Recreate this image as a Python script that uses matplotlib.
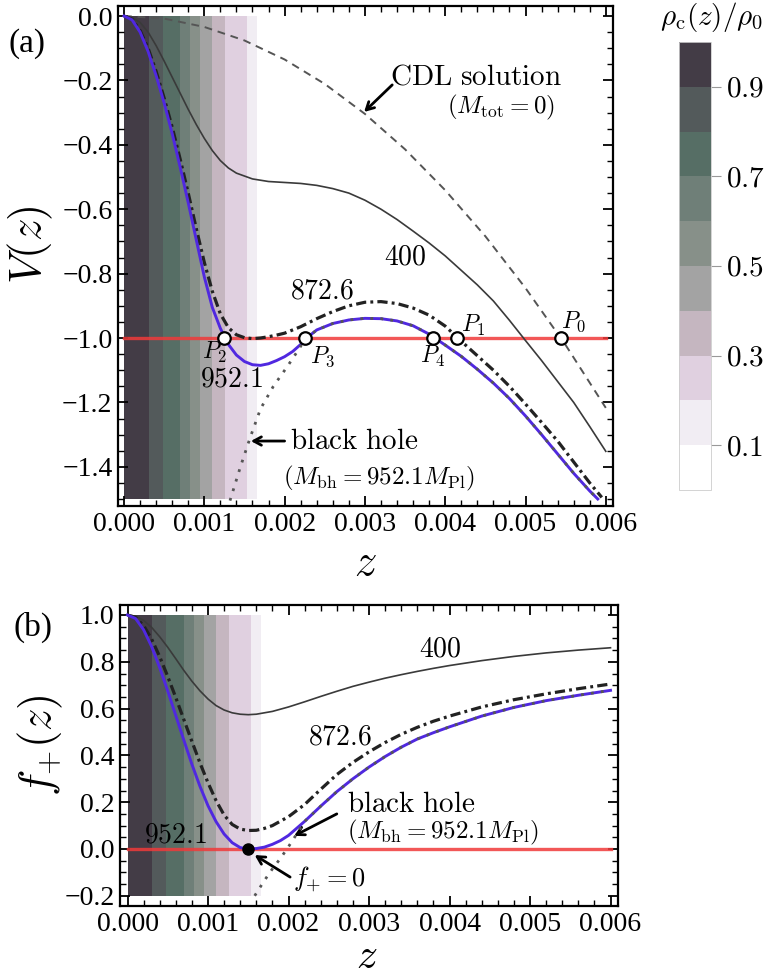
import numpy as np
import matplotlib
matplotlib.use("Agg")
import matplotlib.pyplot as plt
from matplotlib.colors import ListedColormap, BoundaryNorm
from matplotlib.cm import ScalarMappable
from matplotlib.ticker import MultipleLocator, FuncFormatter

plt.rcParams["font.family"] = ["Liberation Serif", "DejaVu Serif"]
plt.rcParams["mathtext.fontset"] = "cm"

# all z values below are in units of 1e-3

# density strips rho_c(z)/rho_0 behind the curves
strip_edges = [0, 0.31, 0.48, 0.70, 0.82, 0.95, 1.10, 1.26, 1.53, 1.66]
strip_rho = [0.95, 0.85, 0.75, 0.65, 0.55, 0.45, 0.35, 0.25, 0.15]
rho_levels = [0, 0.1, 0.2, 0.3, 0.4, 0.5, 0.6, 0.7, 0.8, 0.9, 1.0]
rho_colors = ["#ffffff", "#f1edf3", "#e0d0e0", "#c5b6c0", "#a3a3a3",
              "#879089", "#6f7f78", "#566e65", "#535a5b", "#433c46"]
rho_ticks = [0.1, 0.3, 0.5, 0.7, 0.9]

# ---- panel (a): V(z)
z_cdl = [0, 0.5, 1.0, 1.5, 2.0, 2.5, 3.0, 3.5, 4.0, 4.5, 5.0, 5.5, 6.0]
v_cdl = [0, -0.008, -0.034, -0.076, -0.135, -0.211, -0.304, -0.414, -0.541,
         -0.684, -0.845, -1.022, -1.217]

z_400a = [0, 0.1, 0.2, 0.3, 0.4, 0.5, 0.6, 0.7, 0.8, 0.9, 1.0, 1.1, 1.2, 1.3,
          1.4, 1.6, 1.8, 2.0, 2.2, 2.4, 2.6, 2.8, 3.0, 3.2, 3.4, 3.6, 3.8, 4.0,
          4.2, 4.4, 4.6, 4.8, 5.0, 5.2, 5.4, 5.6, 5.8, 6.0]
v_400a = [0, -0.004, -0.02, -0.05, -0.092, -0.14, -0.19, -0.24, -0.29,
          -0.337, -0.38, -0.418, -0.449, -0.472, -0.488, -0.506, -0.514, -0.517,
          -0.52, -0.526, -0.536, -0.55, -0.572, -0.6, -0.632, -0.668, -0.705,
          -0.745, -0.79, -0.835, -0.885, -0.945, -1.008, -1.07, -1.135, -1.2,
          -1.275, -1.352]

z_873a = [0, 0.1, 0.2, 0.3, 0.4, 0.5, 0.6, 0.7, 0.8, 0.9, 1.0, 1.1, 1.2, 1.3,
          1.4, 1.5, 1.6, 1.7, 1.8, 1.9, 2.0, 2.2, 2.4, 2.6, 2.8, 3.0, 3.2, 3.4,
          3.6, 3.8, 4.0, 4.2, 4.4, 4.6, 4.8, 5.0, 5.2, 5.4, 5.6, 5.8, 5.95]
v_873a = [0, -0.01, -0.045, -0.1, -0.172, -0.255, -0.345, -0.445, -0.55, -0.66,
          -0.765, -0.855, -0.925, -0.968, -0.99, -0.999, -1.002, -1.0, -0.996,
          -0.991, -0.985, -0.965, -0.94, -0.918, -0.9, -0.889, -0.887, -0.893,
          -0.907, -0.929, -0.963, -1.01, -1.055, -1.1, -1.15, -1.205, -1.262,
          -1.32, -1.385, -1.45, -1.495]

z_952a = [0, 0.1, 0.2, 0.3, 0.4, 0.5, 0.6, 0.7, 0.8, 0.9, 1.0, 1.1, 1.2, 1.3,
          1.4, 1.5, 1.6, 1.7, 1.8, 1.9, 2.0, 2.1, 2.2, 2.3, 2.4, 2.6, 2.8, 3.0,
          3.2, 3.4, 3.6, 3.8, 4.0, 4.2, 4.4, 4.6, 4.8, 5.0, 5.2, 5.4, 5.6, 5.8,
          5.9]
v_952a = [0, -0.012, -0.05, -0.11, -0.185, -0.27, -0.365, -0.47, -0.58, -0.695,
          -0.81, -0.905, -0.97, -1.02, -1.053, -1.073, -1.083, -1.085, -1.08,
          -1.07, -1.058, -1.042, -1.02, -0.995, -0.975, -0.955, -0.944, -0.939,
          -0.94, -0.947, -0.962, -0.988, -1.022, -1.057, -1.097, -1.14, -1.188,
          -1.242, -1.3, -1.36, -1.42, -1.475, -1.5]

# black-hole branch before it joins the 952.1 curve at P3
z_bh_a = [1.32, 1.45, 1.57, 1.70, 1.86, 2.03, 2.19, 2.26]
v_bh_a = [-1.505, -1.40, -1.31, -1.22, -1.15, -1.09, -1.03, -1.0]

p_names = ["P_0", "P_1", "P_2", "P_3", "P_4"]
p_z = [5.44, 4.15, 1.25, 2.26, 3.85]
p_v = [-1.0, -1.0, -1.0, -1.0, -1.0]

# ---- panel (b): f_+(z)
z_400b = [0, 0.1, 0.2, 0.3, 0.4, 0.5, 0.6, 0.7, 0.8, 0.9, 1.0, 1.1, 1.2, 1.3,
          1.4, 1.5, 1.6, 1.8, 2.0, 2.2, 2.4, 2.6, 2.8, 3.0, 3.2, 3.4, 3.6, 3.8,
          4.0, 4.4, 4.8, 5.2, 5.6, 6.0]
f_400b = [1.0, 0.995, 0.977, 0.947, 0.907, 0.862, 0.813, 0.763, 0.717, 0.676,
          0.641, 0.613, 0.594, 0.582, 0.576, 0.574, 0.576, 0.588, 0.607, 0.629,
          0.652, 0.674, 0.695, 0.713, 0.73, 0.745, 0.759, 0.772, 0.784, 0.805,
          0.823, 0.838, 0.85, 0.86]

z_873b = [0, 0.1, 0.2, 0.3, 0.4, 0.5, 0.6, 0.7, 0.8, 0.9, 1.0, 1.1, 1.2, 1.3,
          1.4, 1.5, 1.6, 1.7, 1.8, 2.0, 2.2, 2.4, 2.6, 2.8, 3.0, 3.2, 3.4, 3.6,
          3.8, 4.0, 4.4, 4.8, 5.2, 5.6, 6.0]
f_873b = [1.0, 0.99, 0.955, 0.897, 0.822, 0.737, 0.647, 0.553, 0.46, 0.368,
          0.283, 0.207, 0.145, 0.105, 0.085, 0.079, 0.08, 0.088, 0.1, 0.138,
          0.19, 0.255, 0.318, 0.37, 0.415, 0.455, 0.49, 0.52, 0.546, 0.568,
          0.607, 0.638, 0.663, 0.685, 0.705]

z_952b = [0, 0.1, 0.2, 0.3, 0.4, 0.5, 0.6, 0.7, 0.8, 0.9, 1.0, 1.1, 1.2, 1.3,
          1.4, 1.5, 1.6, 1.7, 1.8, 1.9, 2.0, 2.2, 2.4, 2.6, 2.8, 3.0, 3.2, 3.4,
          3.6, 3.8, 4.0, 4.4, 4.8, 5.2, 5.6, 6.0]
f_952b = [1.0, 0.985, 0.937, 0.865, 0.775, 0.675, 0.57, 0.465, 0.362, 0.268,
          0.185, 0.117, 0.064, 0.027, 0.006, 0.0, 0.002, 0.008, 0.02, 0.036,
          0.058, 0.118, 0.183, 0.245, 0.3, 0.35, 0.395, 0.435, 0.47, 0.497,
          0.522, 0.568, 0.605, 0.634, 0.657, 0.678]

z_bh_b = [1.58, 1.7, 1.8, 1.9, 2.0, 2.1, 2.2]
f_bh_b = [-0.2, -0.135, -0.085, -0.04, 0.01, 0.063, 0.118]

zero_z = [1.5]
zero_f = [0.0]

W, H = 766, 976
BLUE = "#5028e0"
RED = "#f03a3a"
ARROW = dict(arrowstyle="->,head_length=0.55,head_width=0.3",
             color="black", lw=2.0, shrinkA=0, shrinkB=0)


def box(left, top, right, bottom):
    return [left / W, 1 - bottom / H, (right - left) / W, (bottom - top) / H]


def zs(vals):
    return np.asarray(vals) * 1e-3


def minus(fmt):
    def f(v, pos):
        if abs(v) < 1e-12:
            v = 0.0
        return fmt.format(v).replace("-", "\u2212")
    return FuncFormatter(f)


cmap = ListedColormap(rho_colors)
norm = BoundaryNorm(rho_levels, cmap.N)

fig = plt.figure(figsize=(W / 100, H / 100), dpi=100)
ax1 = fig.add_axes(box(118, 6, 613, 506))
ax2 = fig.add_axes(box(120, 605, 618, 906))
cax = fig.add_axes(box(679, 42, 711, 490))


def style(ax, ymajor):
    ax.xaxis.set_major_locator(MultipleLocator(0.001))
    ax.xaxis.set_minor_locator(MultipleLocator(0.0002))
    ax.yaxis.set_major_locator(MultipleLocator(ymajor))
    ax.yaxis.set_minor_locator(MultipleLocator(0.05))
    ax.xaxis.set_major_formatter(minus("{:.3f}"))
    ax.yaxis.set_major_formatter(minus("{:.1f}"))
    ax.tick_params(which="both", direction="in", top=True, right=True,
                   labelsize=20, colors="black")
    ax.tick_params(which="major", length=7, width=1.3, pad=4)
    ax.tick_params(which="minor", length=4, width=1.0)
    for s in ax.spines.values():
        s.set_linewidth(1.6)


def dotted_path(zb, vb, zc, vc, start):
    tail = [(z, v) for z, v in zip(zc, vc) if z > start]
    zz = list(zb) + [t[0] for t in tail]
    vv = list(vb) + [t[1] for t in tail]
    return zs(zz), vv


# ---------- (a)
ax1.pcolormesh(zs(strip_edges), [-1.5, 0.0], [strip_rho], cmap=cmap, norm=norm,
               shading="flat", zorder=0)
ax1.plot(zs([0, 6.0]), [-1.0, -1.0], color=RED, lw=2.4, alpha=0.85, zorder=2)
ax1.plot(zs(z_cdl), v_cdl, color="#555555", lw=1.4, dashes=(4, 3), zorder=3)
ax1.plot(zs(z_400a), v_400a, color="#3a3a3a", lw=1.2, zorder=3)
ax1.plot(zs(z_873a), v_873a, color="#222222", lw=2.3,
         dashes=(3.2, 1.3, 0.9, 1.3), zorder=4)
ax1.plot(zs(z_952a), v_952a, color=BLUE, lw=2.1, zorder=5)
bz, bv = dotted_path(z_bh_a, v_bh_a, z_952a, v_952a, z_bh_a[-1])
ax1.plot(bz, bv, color="#555555", lw=2.0, dashes=(1, 2.6), zorder=6)
ax1.plot(zs(p_z), p_v, "o", ms=9, mfc="white", mec="black", mew=1.6, zorder=7)

p_off = {"P_0": (0.16, 0.05), "P_1": (0.2, 0.04), "P_2": (-0.13, -0.045),
         "P_3": (0.21, -0.06), "P_4": (-0.01, -0.056)}
for name, z, v in zip(p_names, p_z, p_v):
    dz, dv = p_off[name]
    ax1.text((z + dz) * 1e-3, v + dv, "$" + name + "$", fontsize=17,
             ha="center", va="center", zorder=8)

ax1.text(3.31e-3, -0.19, r"$\mathrm{CDL\ solution}$", fontsize=21,
         ha="left", va="center")
ax1.text(5.37e-3, -0.283, r"$(M_{\mathrm{tot}}=0)$", fontsize=18,
         ha="right", va="center")
ax1.annotate("", xy=(2.99e-3, -0.298), xytext=(3.34e-3, -0.214),
             arrowprops=ARROW)
ax1.text(3.5e-3, -0.752, r"$400$", fontsize=20, ha="center", va="center")
ax1.text(2.47e-3, -0.857, r"$872.6$", fontsize=20, ha="center", va="center")
ax1.text(1.34e-3, -1.13, r"$952.1$", fontsize=20, ha="center", va="center")
ax1.text(2.07e-3, -1.323, r"$\mathrm{black\ hole}$", fontsize=21,
         ha="left", va="center")
ax1.text(1.98e-3, -1.435, r"$(M_{\mathrm{bh}}=952.1M_{\mathrm{Pl}})$",
         fontsize=18, ha="left", va="center")
ax1.annotate("", xy=(1.58e-3, -1.32), xytext=(2.0e-3, -1.32),
             arrowprops=ARROW)

ax1.set_xlim((118 - 124) / 80.3e3, (613 - 124) / 80.3e3)
ax1.set_ylim(-(506 - 16) / 322, (16 - 6) / 322)
style(ax1, 0.2)

# ---------- (b)
ax2.pcolormesh(zs(strip_edges), [-0.2, 1.0], [strip_rho], cmap=cmap, norm=norm,
               shading="flat", zorder=0)
ax2.plot(zs([0, 6.0]), [0.0, 0.0], color=RED, lw=2.4, alpha=0.85, zorder=2)
ax2.plot(zs(z_400b), f_400b, color="#3a3a3a", lw=1.2, zorder=3)
ax2.plot(zs(z_873b), f_873b, color="#222222", lw=2.3,
         dashes=(3.2, 1.3, 0.9, 1.3), zorder=4)
ax2.plot(zs(z_952b), f_952b, color=BLUE, lw=2.1, zorder=5)
bz, bf = dotted_path(z_bh_b, f_bh_b, z_952b, f_952b, z_bh_b[-1])
ax2.plot(bz, bf, color="#555555", lw=2.0, dashes=(1, 2.6), zorder=6)
ax2.plot(zs(zero_z), zero_f, "o", ms=8, color="black", zorder=7)

ax2.text(3.88e-3, 0.85, r"$400$", fontsize=20, ha="center", va="center")
ax2.text(2.64e-3, 0.474, r"$872.6$", fontsize=20, ha="center", va="center")
ax2.text(0.6e-3, 0.055, r"$952.1$", fontsize=20, ha="center", va="center")
ax2.text(2.73e-3, 0.19, r"$\mathrm{black\ hole}$", fontsize=21,
         ha="left", va="center")
ax2.text(2.73e-3, 0.072, r"$(M_{\mathrm{bh}}=952.1M_{\mathrm{Pl}})$",
         fontsize=18, ha="left", va="center")
ax2.annotate("", xy=(2.07e-3, 0.056), xytext=(2.6e-3, 0.15),
             arrowprops=ARROW)
ax2.text(2.05e-3, -0.132, r"$f_{+}=0$", fontsize=19, ha="left", va="center")
ax2.annotate("", xy=(1.58e-3, -0.026), xytext=(2.02e-3, -0.12),
             arrowprops=ARROW)

ax2.set_xlim((120 - 127.5) / 80.5e3, (618 - 127.5) / 80.5e3)
ax2.set_ylim((849 - 906) / 234, (849 - 605) / 234)
style(ax2, 0.2)

# ---------- colour scale
cb = fig.colorbar(ScalarMappable(norm=norm, cmap=cmap), cax=cax,
                  ticks=rho_ticks)
cb.outline.set_edgecolor("#cccccc")
cb.outline.set_linewidth(0.6)
cax.tick_params(length=7, width=0.8, color="#999999", labelsize=21, pad=4)
cax.yaxis.set_major_formatter(FuncFormatter(lambda v, p: f"${v:.1f}$"))
cax.minorticks_off()

# labels
fig.text(712 / W, 1 - 17 / H, r"$\rho_{\mathrm{c}}(z)/\rho_0$", fontsize=21,
         ha="center", va="center")
fig.text(27 / W, 1 - 44 / H, "(a)", fontsize=24, ha="center", va="center")
fig.text(33 / W, 1 - 627 / H, "(b)", fontsize=24, ha="center", va="center")
fig.text(30 / W, 1 - 245 / H, r"$V(z)$", fontsize=32, rotation=90,
         ha="center", va="center")
fig.text(40 / W, 1 - 745 / H, r"$f_{+}(z)$", fontsize=32, rotation=90,
         ha="center", va="center")
fig.text(365 / W, 1 - 564 / H, r"$z$", fontsize=32, ha="center", va="center")
fig.text(367 / W, 1 - 958 / H, r"$z$", fontsize=30, ha="center", va="center")

fig.savefig("out.png", dpi=100)
